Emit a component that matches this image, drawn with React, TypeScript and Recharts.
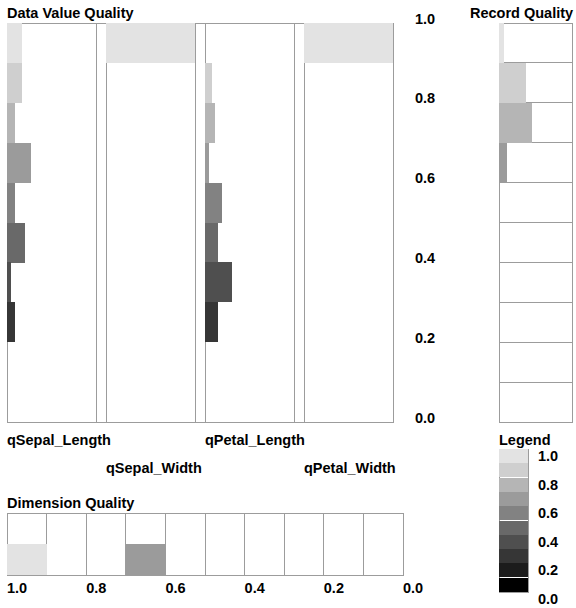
import { Bar, BarChart, CartesianGrid, Cell, ReferenceArea, XAxis, YAxis } from "recharts";

// quality bins, top (1.0-0.9) to bottom (0.1-0.0), keyed by bin centre
const binMids = [0.95, 0.85, 0.75, 0.65, 0.55, 0.45, 0.35, 0.25, 0.15, 0.05];
const binEdges = [0, 0.1, 0.2, 0.3, 0.4, 0.5, 0.6, 0.7, 0.8, 0.9, 1.0];
const binColors = [
  "#e3e3e3", "#cfcfcf", "#b5b5b5", "#9b9b9b", "#828282",
  "#696969", "#4f4f4f", "#363636", "#1c1c1c", "#000000",
];
const axisTicks = [0, 0.2, 0.4, 0.6, 0.8, 1.0];

// share of records per quality bin, one list per dimension
const dimensionNames = ["qSepal_Length", "qSepal_Width", "qPetal_Length", "qPetal_Width"];
const sepalLength = [0.165, 0.165, 0.09, 0.275, 0.09, 0.2, 0.05, 0.09, 0, 0];
const sepalWidth = [1, 0, 0, 0, 0, 0, 0, 0, 0, 0];
const petalLength = [0, 0.075, 0.11, 0.04, 0.19, 0.15, 0.3, 0.15, 0, 0];
const petalWidth = [1, 0, 0, 0, 0, 0, 0, 0, 0, 0];
const dimensionValues = [sepalLength, sepalWidth, petalLength, petalWidth];

const recordQuality = [0.07, 0.37, 0.45, 0.11, 0, 0, 0, 0, 0, 0];
const dimensionQuality = [0.5, 0, 0, 0.5, 0, 0, 0, 0, 0, 0];
const legendSwatches = [1, 1, 1, 1, 1, 1, 1, 1, 1, 1];

const FONT = "'Liberation Sans', Arial, sans-serif";
const FONT_SIZE = 14.5;
const GRID = "#9c9c9c";

const toRows = (values: number[]) =>
  binMids.map((mid, i) => ({ mid, value: values[i], color: binColors[i] }));

const txt = { fontFamily: FONT, fontSize: FONT_SIZE, fontWeight: 700, fill: "#000" };
const fmt = (v: any) => Number(v).toFixed(1);
const isEvenEdge = (v: any) => Math.round(Number(v) * 10) % 2 === 0;

function Title({ text, left, baseline }: { text: string; left: number; baseline: number }) {
  return (
    <div
      style={{
        position: "absolute",
        left,
        top: baseline - 12,
        fontFamily: FONT,
        fontSize: FONT_SIZE,
        lineHeight: "14px",
        fontWeight: 700,
        whiteSpace: "nowrap",
      }}
    >
      {text}
    </div>
  );
}

const ValueTick = (p: any) => (
  <text x={p.x} y={p.y + 0.5} textAnchor="start" {...txt}>
    {fmt(p.payload.value)}
  </text>
);

const LegendTick = (p: any) => (
  <text x={p.x} y={p.y + 12} textAnchor="start" {...txt}>
    {fmt(p.payload.value)}
  </text>
);

const DimTick = (p: any) =>
  isEvenEdge(p.payload.value) ? (
    <text x={p.x} y={p.y + 17.5} textAnchor="start" {...txt}>
      {fmt(p.payload.value)}
    </text>
  ) : (
    <g />
  );

const PANEL_W = 89;
const PANEL_H = 399;
const AXIS_W = 50;
const PANEL_TOP = 23;

function ValuePanel({ index }: { index: number }) {
  const rows = toRows(dimensionValues[index]);
  const last = index === dimensionValues.length - 1;
  return (
    <div style={{ position: "absolute", left: 6 + index * 99, top: PANEL_TOP - 12 }}>
      <BarChart
        width={PANEL_W + 2 + (last ? AXIS_W : 0)}
        height={PANEL_H + 18}
        data={rows}
        layout="vertical"
        barCategoryGap={0}
        barGap={0}
        margin={{ top: 12, right: 1, bottom: 6, left: 1 }}
      >
        <XAxis type="number" domain={[0, 1]} hide />
        <YAxis
          type="number"
          dataKey="mid"
          domain={[0, 1]}
          reversed
          ticks={axisTicks}
          interval={0}
          orientation="right"
          hide={!last}
          width={AXIS_W}
          axisLine={false}
          tickLine={false}
          tickSize={0}
          tickMargin={22}
          tick={<ValueTick />}
        />
        <ReferenceArea
          x1={0}
          x2={1}
          y1={0}
          y2={1}
          fill="none"
          stroke={GRID}
          shapeRendering="crispEdges"
        />
        <Bar dataKey="value" isAnimationActive={false} shapeRendering="crispEdges">
          {rows.map((r) => (
            <Cell key={r.mid} fill={r.color} />
          ))}
        </Bar>
      </BarChart>
    </div>
  );
}

function RecordPanel() {
  const rows = toRows(recordQuality);
  return (
    <div style={{ position: "absolute", left: 498, top: PANEL_TOP - 1 }}>
      <BarChart
        width={75}
        height={PANEL_H + 2}
        data={rows}
        layout="vertical"
        barCategoryGap={0}
        barGap={0}
        margin={{ top: 1, right: 1, bottom: 1, left: 1 }}
      >
        <CartesianGrid vertical={false} stroke={GRID} shapeRendering="crispEdges" />
        <XAxis type="number" domain={[0, 1]} hide />
        <YAxis type="number" dataKey="mid" domain={[0, 1]} reversed ticks={binEdges} interval={0} hide />
        <Bar dataKey="value" isAnimationActive={false} shapeRendering="crispEdges">
          {rows.map((r) => (
            <Cell key={r.mid} fill={r.color} />
          ))}
        </Bar>
        <ReferenceArea
          x1={0}
          x2={1}
          y1={0}
          y2={1}
          fill="none"
          stroke={GRID}
          shapeRendering="crispEdges"
        />
      </BarChart>
    </div>
  );
}

function LegendScale() {
  const rows = toRows(legendSwatches);
  return (
    <div style={{ position: "absolute", left: 498, top: 448 }}>
      <BarChart
        width={78}
        height={160}
        data={rows}
        layout="vertical"
        barCategoryGap={0}
        barGap={0}
        margin={{ top: 1, right: 1, bottom: 16, left: 1 }}
      >
        <XAxis type="number" domain={[0, 1]} hide />
        <YAxis
          type="number"
          dataKey="mid"
          domain={[0, 1]}
          reversed
          ticks={axisTicks}
          interval={0}
          orientation="right"
          width={47}
          axisLine={false}
          tickLine={false}
          tickSize={0}
          tickMargin={10}
          tick={<LegendTick />}
        />
        <Bar dataKey="value" isAnimationActive={false} shapeRendering="crispEdges">
          {rows.map((r) => (
            <Cell key={r.mid} fill={r.color} />
          ))}
        </Bar>
        <ReferenceArea
          x1={0}
          x2={1}
          y1={0}
          y2={1}
          fill="none"
          stroke={GRID}
          shapeRendering="crispEdges"
        />
      </BarChart>
    </div>
  );
}

function DimensionPanel() {
  const rows = toRows(dimensionQuality);
  return (
    <div style={{ position: "absolute", left: 6, top: 512 }}>
      <BarChart
        width={425}
        height={89}
        data={rows}
        barCategoryGap={0}
        barGap={0}
        margin={{ top: 1, right: 28, bottom: 1, left: 1 }}
      >
        <CartesianGrid horizontal={false} stroke={GRID} shapeRendering="crispEdges" />
        <XAxis
          type="number"
          dataKey="mid"
          domain={[0, 1]}
          reversed
          ticks={binEdges}
          interval={0}
          axisLine={false}
          tickLine={false}
          tickSize={0}
          tickMargin={0}
          height={25}
          tick={<DimTick />}
        />
        <YAxis type="number" domain={[0, 1]} hide />
        <Bar dataKey="value" isAnimationActive={false} shapeRendering="crispEdges">
          {rows.map((r) => (
            <Cell key={r.mid} fill={r.color} />
          ))}
        </Bar>
        <ReferenceArea
          x1={0}
          x2={1}
          y1={0}
          y2={1}
          fill="none"
          stroke={GRID}
          shapeRendering="crispEdges"
        />
      </BarChart>
    </div>
  );
}

export default function App() {
  return (
    <div
      style={{
        position: "absolute",
        left: 0,
        top: 0,
        width: 576,
        height: 608,
        background: "#fff",
        overflow: "hidden",
      }}
    >
      <Title text="Data Value Quality" left={7} baseline={18} />
      <Title text="Record Quality" left={470} baseline={18} />
      <Title text="Legend" left={499} baseline={445} />
      <Title text="Dimension Quality" left={7} baseline={508} />
      {dimensionNames.map((name, i) => (
        <Title key={name} text={name} left={7 + i * 99} baseline={i % 2 === 0 ? 444.5 : 473} />
      ))}
      <div
        style={{
          position: "absolute",
          left: 7,
          top: PANEL_TOP,
          width: 387,
          height: 398,
          borderTop: `1px solid ${GRID}`,
          borderBottom: `1px solid ${GRID}`,
        }}
      />
      {dimensionValues.map((_, i) => (
        <ValuePanel key={dimensionNames[i]} index={i} />
      ))}
      <RecordPanel />
      <LegendScale />
      <DimensionPanel />
    </div>
  );
}
